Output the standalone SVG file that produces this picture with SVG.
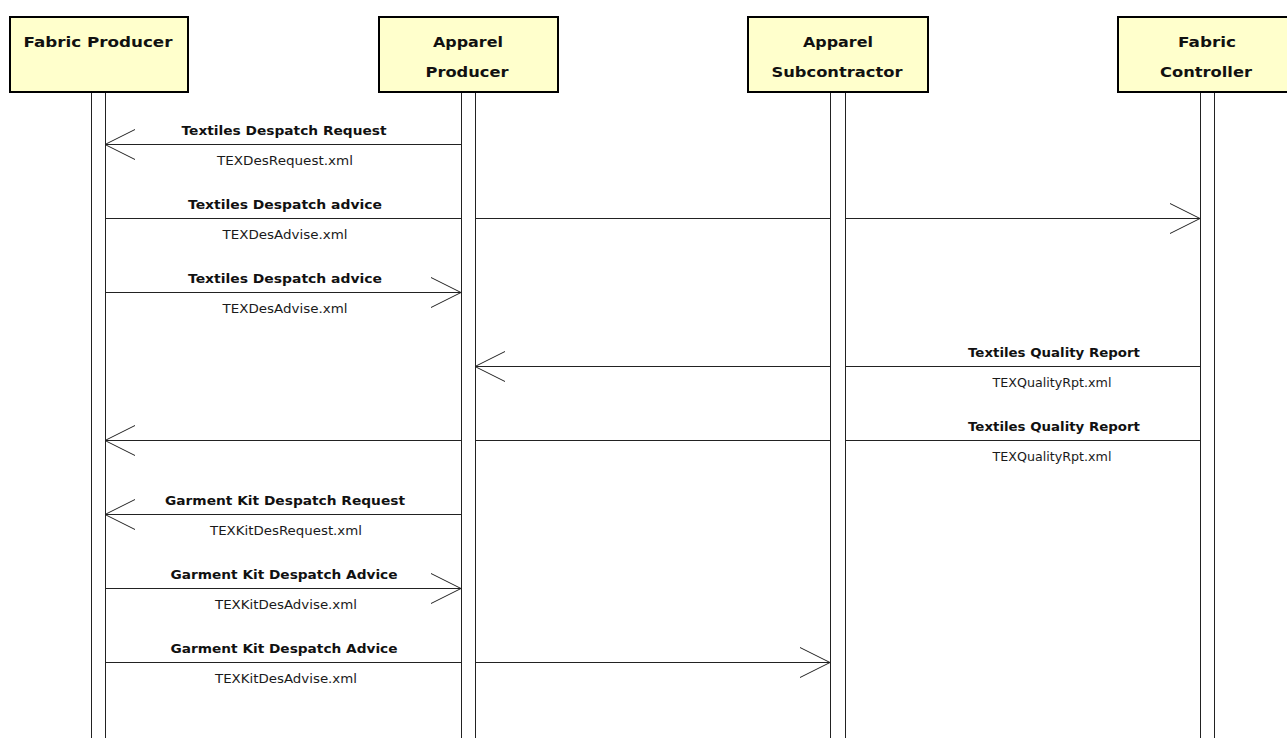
<svg xmlns="http://www.w3.org/2000/svg" width="1287" height="738" viewBox="0 0 1287 738">
  <style>
    .actor rect { fill: #FFFFCC; stroke: #000; stroke-width: 2; }
    .actor text { font-family: "DejaVu Sans", "Liberation Sans", sans-serif; font-size: 14.5px; font-weight: bold; fill: #111; text-anchor: middle; }
    .life { fill: #fff; stroke: #222; stroke-width: 1; }
    .msg { stroke: #222; stroke-width: 1; fill: none; marker-end: url(#open); }
    .lbl { font-family: "DejaVu Sans", "Liberation Sans", sans-serif; font-size: 12px; font-weight: bold; fill: #111; text-anchor: middle; }
    .file { font-family: "DejaVu Sans", "Liberation Sans", sans-serif; font-size: 11.5px; fill: #1a1a1a; text-anchor: middle; }
  </style>
  <defs>
    <marker id="open" markerUnits="userSpaceOnUse" markerWidth="34" markerHeight="34" viewBox="-32 -17 34 34" refX="0" refY="0" orient="auto" overflow="visible">
      <path d="M-30,-15 L0,0 L-30,15" fill="none" stroke="#222" stroke-width="1"/>
    </marker>
  </defs>
  <rect width="1287" height="738" fill="#fff"/>

  <!-- message connectors (lifelines are drawn over them) -->
  <g id="connectors">
    <path class="msg" d="M461,144.5 H105"/>
    <path class="msg" d="M105,218.5 H1200"/>
    <path class="msg" d="M105,292.5 H461"/>
    <path class="msg" d="M1200,366.5 H475"/>
    <path class="msg" d="M1200,440.5 H105"/>
    <path class="msg" d="M461,514.5 H105"/>
    <path class="msg" d="M105,588.5 H461"/>
    <path class="msg" d="M105,662.5 H830"/>
  </g>

  <!-- lifelines -->
  <g id="lifelines">
    <rect class="life" x="91.5" y="92" width="14" height="660"/>
    <rect class="life" x="461.5" y="92" width="14" height="660"/>
    <rect class="life" x="830.5" y="92" width="15" height="660"/>
    <rect class="life" x="1200.5" y="92" width="14" height="660"/>
  </g>

  <!-- message labels -->
  <g id="labels">
    <text class="lbl" x="284" y="135" textLength="205" lengthAdjust="spacingAndGlyphs">Textiles Despatch Request</text>
    <text class="file" x="285" y="165" textLength="136" lengthAdjust="spacingAndGlyphs">TEXDesRequest.xml</text>

    <text class="lbl" x="285" y="209" textLength="194" lengthAdjust="spacingAndGlyphs">Textiles Despatch advice</text>
    <text class="file" x="285" y="239" textLength="125" lengthAdjust="spacingAndGlyphs">TEXDesAdvise.xml</text>

    <text class="lbl" x="285" y="283" textLength="194" lengthAdjust="spacingAndGlyphs">Textiles Despatch advice</text>
    <text class="file" x="285" y="313" textLength="125" lengthAdjust="spacingAndGlyphs">TEXDesAdvise.xml</text>

    <text class="lbl" x="1054" y="357" textLength="172" lengthAdjust="spacingAndGlyphs">Textiles Quality Report</text>
    <text class="file" x="1052" y="387" textLength="119" lengthAdjust="spacingAndGlyphs">TEXQualityRpt.xml</text>

    <text class="lbl" x="1054" y="431" textLength="172" lengthAdjust="spacingAndGlyphs">Textiles Quality Report</text>
    <text class="file" x="1052" y="461" textLength="119" lengthAdjust="spacingAndGlyphs">TEXQualityRpt.xml</text>

    <text class="lbl" x="285" y="505" textLength="240" lengthAdjust="spacingAndGlyphs">Garment Kit Despatch Request</text>
    <text class="file" x="286" y="535" textLength="152" lengthAdjust="spacingAndGlyphs">TEXKitDesRequest.xml</text>

    <text class="lbl" x="284" y="579" textLength="227" lengthAdjust="spacingAndGlyphs">Garment Kit Despatch Advice</text>
    <text class="file" x="286" y="609" textLength="142" lengthAdjust="spacingAndGlyphs">TEXKitDesAdvise.xml</text>

    <text class="lbl" x="284" y="653" textLength="227" lengthAdjust="spacingAndGlyphs">Garment Kit Despatch Advice</text>
    <text class="file" x="286" y="683" textLength="142" lengthAdjust="spacingAndGlyphs">TEXKitDesAdvise.xml</text>
  </g>

  <!-- participants -->
  <g id="fabric-producer" class="actor">
    <rect x="10" y="17" width="178" height="75"/>
    <text x="98" y="47" textLength="149" lengthAdjust="spacingAndGlyphs">Fabric Producer</text>
  </g>
  <g id="apparel-producer" class="actor">
    <rect x="379" y="17" width="179" height="75"/>
    <text x="468" y="47" textLength="70" lengthAdjust="spacingAndGlyphs">Apparel</text>
    <text x="467" y="77" textLength="83" lengthAdjust="spacingAndGlyphs">Producer</text>
  </g>
  <g id="apparel-subcontractor" class="actor">
    <rect x="748" y="17" width="180" height="75"/>
    <text x="838" y="47" textLength="70" lengthAdjust="spacingAndGlyphs">Apparel</text>
    <text x="837" y="77" textLength="131" lengthAdjust="spacingAndGlyphs">Subcontractor</text>
  </g>
  <g id="fabric-controller" class="actor">
    <rect x="1118" y="17" width="178" height="75"/>
    <text x="1207" y="47" textLength="58" lengthAdjust="spacingAndGlyphs">Fabric</text>
    <text x="1206" y="77" textLength="92" lengthAdjust="spacingAndGlyphs">Controller</text>
  </g>
</svg>
